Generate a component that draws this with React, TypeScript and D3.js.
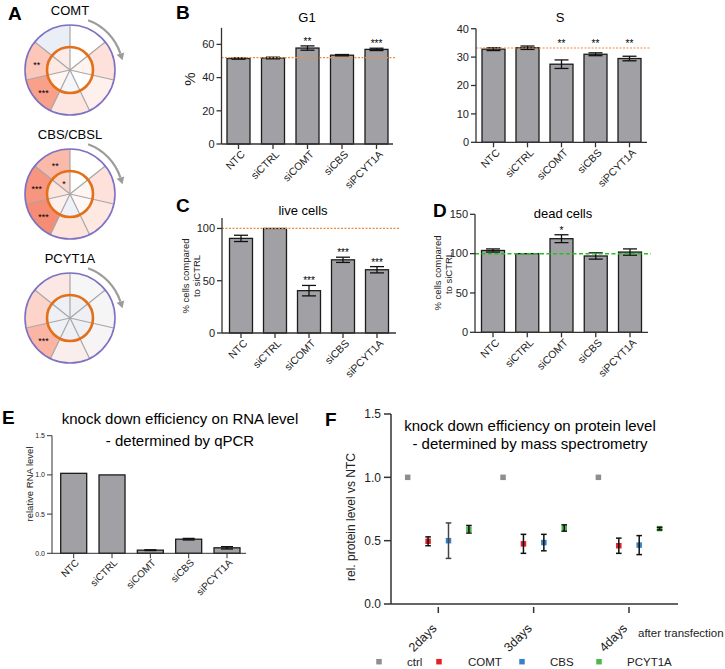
import React from 'react';
import * as d3 from 'd3';

const FONT = '"Liberation Sans", Arial, Helvetica, sans-serif';

// ---------- data ----------
const categories = ['NTC', 'siCTRL', 'siCOMT', 'siCBS', 'siPCYT1A'];

const g1Values = [51.5, 51.8, 57.8, 53.5, 57.0];
const g1Errors = [0.4, 0.5, 1.3, 0.4, 0.7];
const g1Stars = ['', '', '**', '', '***'];
const g1Ref = 52.0;
const g1Ticks = [0, 20, 40, 60];

const sValues = [32.8, 33.3, 27.5, 31.0, 29.5];
const sErrors = [0.5, 0.6, 1.5, 0.5, 0.8];
const sStars = ['', '', '**', '**', '**'];
const sRef = 33.2;
const sTicks = [0, 10, 20, 30, 40];

const liveValues = [90.5, 100, 40.5, 70, 60.5];
const liveErrors = [3, 0, 5, 2.5, 3];
const liveStars = ['', '', '***', '***', '***'];
const liveRef = 100;
const liveTicks = [0, 50, 100];

const deadValues = [104, 100, 119, 97, 102];
const deadErrors = [2, 0, 5, 4, 4];
const deadStars = ['', '', '*', '', ''];
const deadRef = 100;
const deadTicks = [0, 50, 100, 150];

const rnaValues = [1.02, 1.0, 0.04, 0.18, 0.07];
const rnaErrors = [0, 0, 0.005, 0.01, 0.015];
const rnaTicks = [0, 0.5, 1.0, 1.5];

const timepoints = ['2days', '3days', '4days'];
const proteinSeries = ['ctrl', 'COMT', 'CBS', 'PCYT1A'];
const proteinColors = ['#8e8e8e', '#e3202a', '#3b80c4', '#4cb84c'];
const ctrlValues = [1.0, 1.0, 1.0];
const ctrlErrors = [0, 0, 0];
const comtValues = [0.495, 0.475, 0.46];
const comtErrors = [0.035, 0.075, 0.06];
const cbsValues = [0.5, 0.485, 0.465];
const cbsErrors = [0.14, 0.065, 0.075];
const pcytValues = [0.59, 0.6, 0.595];
const pcytErrors = [0.03, 0.025, 0.01];
const proteinTicks = [0, 0.5, 1.0, 1.5];

// wheels: 7 sectors clockwise from 12 o'clock
const wheelTitles = ['COMT', 'CBS/CBSL', 'PCYT1A'];
const comtOuter = ['#ffffff', '#fde1da', '#fef0ec', '#fde6e0', '#f9a08b', '#fcc6b9', '#e9eef7'];
const comtInner = ['#ffffff', '#fef3f0', '#ffffff', '#f4f6fb', '#fff6f3', '#fde8e2', '#fcebe6'];
const comtOuterStars = ['', '', '', '', '***', '**', ''];
const comtInnerStars = ['', '', '', '', '', '', ''];
const cbsOuter = ['#ffffff', '#fde1da', '#fde8e2', '#fde4dd', '#f58c75', '#f8957f', '#fbb9a9'];
const cbsInner = ['#ffffff', '#fff5f2', '#fff8f6', '#eef1f8', '#fef0ec', '#fde6e0', '#fcd5cb'];
const cbsOuterStars = ['', '', '', '', '***', '***', '**'];
const cbsInnerStars = ['', '', '', '', '', '', '*'];
const pcytOuter = ['#f6f6f6', '#f6f5f5', '#f6f4f4', '#f9eeeb', '#fbb5a4', '#fcd4ca', '#fbe8e4'];
const pcytInner = ['#eef0f5', '#eef0f5', '#eef0f5', '#eef0f5', '#eef0f5', '#eef0f5', '#eef0f5'];
const pcytOuterStars = ['', '', '', '', '***', '', ''];
const pcytInnerStars = ['', '', '', '', '', '', ''];

// ---------- components ----------
const BAR_FILL = '#a1a1a5';
const BAR_STROKE = '#1c1c1c';
const AXIS = '#333333';

function Wheel({ cx, cy, title, outer, inner, outerStars, innerStars }: any) {
  const R = 45, r = 23, n = 7;
  const step = (2 * Math.PI) / n;
  const arc = d3.arc();
  const idx = d3.range(n);
  const a0 = (20 * Math.PI) / 180, a1 = (72 * Math.PI) / 180, RA = 53;
  const p = d3.path();
  p.arc(cx, cy, RA, a0 - Math.PI / 2, a1 - Math.PI / 2);
  const ex = cx + RA * Math.sin(a1), ey = cy - RA * Math.cos(a1);
  const tx = Math.cos(a1), ty = Math.sin(a1);
  const nx = Math.sin(a1), ny = -Math.cos(a1);
  const head = `M${ex + tx * 7},${ey + ty * 7}L${ex + nx * 4},${ey + ny * 4}L${ex - nx * 4},${ey - ny * 4}Z`;
  const fs = 9;
  return (
    <g>
      <text x={cx} y={cy - 55} textAnchor="middle" fontSize={13} fontFamily={FONT}>{title}</text>
      <g transform={`translate(${cx},${cy})`}>
        {idx.map((i) => (
          <path key={'o' + i} d={arc({ innerRadius: r, outerRadius: R, startAngle: i * step, endAngle: (i + 1) * step }) as string} fill={outer[i]} />
        ))}
        {idx.map((i) => (
          <path key={'i' + i} d={arc({ innerRadius: 0, outerRadius: r, startAngle: i * step, endAngle: (i + 1) * step }) as string} fill={inner[i]} />
        ))}
        {idx.map((i) => (
          <line key={'s' + i} x1={0} y1={0} x2={R * Math.sin(i * step)} y2={-R * Math.cos(i * step)} stroke="#a6a6a6" strokeWidth={1.2} />
        ))}
        <circle r={r} fill="none" stroke="#e2701a" strokeWidth={2.6} />
        <circle r={R} fill="none" stroke="#7e72c2" strokeWidth={1.6} />
        {idx.map((i) => {
          const m = (i + 0.5) * step, rr = (r + R) / 2;
          return outerStars[i] ? (
            <text key={'os' + i} x={rr * Math.sin(m)} y={-rr * Math.cos(m) + fs * 0.575} textAnchor="middle" fontSize={fs} fontFamily={FONT}>{outerStars[i]}</text>
          ) : null;
        })}
        {idx.map((i) => {
          const m = (i + 0.5) * step, rr = 14;
          return innerStars[i] ? (
            <text key={'is' + i} x={rr * Math.sin(m)} y={-rr * Math.cos(m) + fs * 0.575} textAnchor="middle" fontSize={fs} fontFamily={FONT}>{innerStars[i]}</text>
          ) : null;
        })}
      </g>
      <path d={p.toString()} fill="none" stroke="#9c9c9c" strokeWidth={2.2} />
      <path d={head} fill="#9c9c9c" />
    </g>
  );
}

function BarPanel(props: any) {
  const { axX, axEnd, y0, yTop, max, ticks, c0, c1, barW, values, errors, stars, refValue, refColor, refDash, refWidth, starsAboveRef, title, titleX, titleY, titleGap = 19, ylabelLines, ylabelX, ylabelY, ylabelSize, capW = 7, tickSize = 11, labelSize = 10.5, labelDx = 7, labelDy = 11, fmt = (d: number) => String(d), axisW = 1.3 } = props;
  const y = d3.scaleLinear().domain([0, max]).range([y0, yTop]);
  const x = d3.scalePoint<string>().domain(categories).range([c0, c1]);
  const refY = refValue != null ? y(refValue) : null;
  return (
    <g fontFamily={FONT}>
      {categories.map((c, i) => (
        <rect key={c} x={(x(c) as number) - barW / 2} y={y(values[i])} width={barW} height={y0 - y(values[i])} fill={BAR_FILL} stroke={BAR_STROKE} strokeWidth={1.3} />
      ))}
      {categories.map((c, i) => {
        if (!errors[i]) return null;
        const cx = x(c) as number;
        const t = y(values[i] + errors[i]), b = y(values[i] - errors[i]);
        return (
          <g key={'e' + c} stroke="#111" strokeWidth={1.3}>
            <line x1={cx} x2={cx} y1={t} y2={b} />
            <line x1={cx - capW} x2={cx + capW} y1={t} y2={t} />
            <line x1={cx - capW} x2={cx + capW} y1={b} y2={b} />
          </g>
        );
      })}
      {refY != null && (
        <line x1={axX} x2={axEnd + 3} y1={refY} y2={refY} stroke={refColor} strokeWidth={refWidth || 1.2} strokeDasharray={refDash || '2,1.5'} />
      )}
      {stars && categories.map((c, i) => {
        if (!stars[i]) return null;
        let top = y(values[i] + (errors[i] || 0));
        if (starsAboveRef && refY != null) top = Math.min(top, refY);
        return <text key={'st' + c} x={x(c) as number} y={top - 1} textAnchor="middle" fontSize={10}>{stars[i]}</text>;
      })}
      <line x1={axX} x2={axX} y1={yTop} y2={y0} stroke={AXIS} strokeWidth={axisW} />
      <line x1={axX} x2={axEnd} y1={y0} y2={y0} stroke={AXIS} strokeWidth={axisW} />
      {ticks.map((t: number) => (
        <g key={'yt' + t}>
          <line x1={axX - 5} x2={axX} y1={y(t)} y2={y(t)} stroke={AXIS} strokeWidth={axisW} />
          <text x={axX - 7} y={y(t)} dy="0.35em" textAnchor="end" fontSize={tickSize} fill="#222">{fmt(t)}</text>
        </g>
      ))}
      {categories.map((c) => (
        <g key={'xt' + c}>
          <line x1={x(c) as number} x2={x(c) as number} y1={y0} y2={y0 + 5} stroke={AXIS} strokeWidth={axisW} />
          <text transform={`translate(${(x(c) as number) + labelDx},${y0 + labelDy}) rotate(-45)`} textAnchor="end" fontSize={labelSize} fill="#222">{c}</text>
        </g>
      ))}
      {title && title.map((t: string, i: number) => (
        <text key={'ti' + i} x={titleX} y={titleY + i * titleGap} textAnchor="middle" fontSize={props.titleSize || 13}>{t}</text>
      ))}
      <g transform={`translate(${ylabelX},${ylabelY}) rotate(-90)`}>
        {ylabelLines.map((l: string, i: number) => (
          <text key={'yl' + i} x={0} y={i * (ylabelSize * 1.2)} textAnchor="middle" fontSize={ylabelSize} fill="#222">{l}</text>
        ))}
      </g>
    </g>
  );
}

function ProteinPanel() {
  const axX = 391, axEnd = 678, y0 = 604, yTop = 414;
  const y = d3.scaleLinear().domain([0, 1.5]).range([y0, yTop]);
  const x = d3.scalePoint<string>().domain(timepoints).range([438.3, 629]);
  const off = d3.scalePoint<string>().domain(proteinSeries).range([-30.6, 30.6]);
  const seriesVals = [ctrlValues, comtValues, cbsValues, pcytValues];
  const seriesErr = [ctrlErrors, comtErrors, cbsErrors, pcytErrors];
  const sq = 5.5;
  return (
    <g fontFamily={FONT}>
      <text x={530} y={431} textAnchor="middle" fontSize={15}>knock down efficiency on protein level</text>
      <text x={530} y={449} textAnchor="middle" fontSize={15}>- determined by mass spectrometry</text>
      <line x1={axX} x2={axX} y1={yTop} y2={y0} stroke={AXIS} strokeWidth={1.5} />
      <line x1={axX} x2={axEnd} y1={y0} y2={y0} stroke={AXIS} strokeWidth={1.5} />
      {proteinTicks.map((t) => (
        <g key={t}>
          <line x1={axX - 7} x2={axX} y1={y(t)} y2={y(t)} stroke={AXIS} strokeWidth={1.5} />
          <text x={axX - 10} y={y(t)} dy="0.35em" textAnchor="end" fontSize={12} fill="#222">{d3.format('.1f')(t)}</text>
        </g>
      ))}
      {timepoints.map((tp) => (
        <g key={tp}>
          <line x1={x(tp) as number} x2={x(tp) as number} y1={y0 + 3} y2={y0 + 9} stroke={AXIS} strokeWidth={1.5} />
          <text transform={`translate(${(x(tp) as number) - 1},${y0 + 25}) rotate(-45)`} textAnchor="end" fontSize={12.5} fill="#222">{tp}</text>
        </g>
      ))}
      <text x={638} y={637} fontSize={11.5} fill="#222">after transfection</text>
      {proteinSeries.map((s, si) =>
        timepoints.map((tp, ti) => {
          const cx = (x(tp) as number) + (off(s) as number);
          const cy = y(seriesVals[si][ti]);
          return <rect key={s + tp} x={cx - sq / 2} y={cy - sq / 2} width={sq} height={sq} fill={proteinColors[si]} />;
        })
      )}
      {proteinSeries.map((s, si) =>
        timepoints.map((tp, ti) => {
          const e = seriesErr[si][ti];
          if (!e) return null;
          const cx = (x(tp) as number) + (off(s) as number);
          const t = y(seriesVals[si][ti] + e), b = y(seriesVals[si][ti] - e);
          const col = si === 2 && ti === 0 ? '#444' : '#111';
          return (
            <g key={'e' + s + tp} stroke={col} strokeWidth={1.5}>
              <line x1={cx} x2={cx} y1={t} y2={b} />
              <line x1={cx - 2.8} x2={cx + 2.8} y1={t} y2={t} />
              <line x1={cx - 2.8} x2={cx + 2.8} y1={b} y2={b} />
            </g>
          );
        })
      )}
      <g transform={`translate(355,517) rotate(-90)`}>
        <text textAnchor="middle" fontSize={12} fill="#222">rel. protein level vs NTC</text>
      </g>
      {proteinSeries.map((s, si) => {
        const lx = [379, 439, 522, 599][si];
        const tx = [407, 468, 550, 627][si];
        return (
          <g key={'lg' + s}>
            <rect x={lx - 2.75} y={661.7 - 2.75} width={5.5} height={5.5} fill={proteinColors[si]} />
            <text x={tx} y={666} fontSize={11.5} fill="#222">{s}</text>
          </g>
        );
      })}
    </g>
  );
}

export default function App() {
  return (
    <svg width={725} height={669} style={{ position: 'absolute', left: 0, top: 0, background: '#fff' }} fontFamily={FONT}>
      <rect width={725} height={669} fill="#fff" />
      {/* panel letters */}
      <g fontWeight="bold" fontSize={19} fontFamily={FONT}>
        <text x={8} y={20}>A</text>
        <text x={176} y={19}>B</text>
        <text x={176} y={212}>C</text>
        <text x={433} y={217}>D</text>
        <text x={2} y={424}>E</text>
        <text x={325} y={426}>F</text>
      </g>
      <Wheel cx={70} cy={70} title={wheelTitles[0]} outer={comtOuter} inner={comtInner} outerStars={comtOuterStars} innerStars={comtInnerStars} />
      <Wheel cx={70} cy={194} title={wheelTitles[1]} outer={cbsOuter} inner={cbsInner} outerStars={cbsOuterStars} innerStars={cbsInnerStars} />
      <Wheel cx={70} cy={318} title={wheelTitles[2]} outer={pcytOuter} inner={pcytInner} outerStars={pcytOuterStars} innerStars={pcytInnerStars} />

      <BarPanel axX={221.5} axEnd={393} y0={144} yTop={27.8} max={70} ticks={g1Ticks} c0={238.5} c1={376.5} barW={23}
        values={g1Values} errors={g1Errors} stars={g1Stars} refValue={g1Ref} refColor="#f08a3c" starsAboveRef
        title={['G1']} titleX={307} titleY={22} ylabelLines={['%']} ylabelX={195} ylabelY={79} ylabelSize={15} />
      <BarPanel axX={476} axEnd={647} y0={142.3} yTop={28.7} max={40} ticks={sTicks} c0={493.5} c1={629.5} barW={23}
        values={sValues} errors={sErrors} stars={sStars} refValue={sRef} refColor="#f08a3c" starsAboveRef
        title={['S']} titleX={560} titleY={22} ylabelLines={[]} ylabelX={0} ylabelY={0} ylabelSize={10} />
      <BarPanel axX={222} axEnd={396} y0={333} yTop={218} max={110} ticks={liveTicks} c0={241} c1={377} barW={23}
        values={liveValues} errors={liveErrors} stars={liveStars} refValue={liveRef} refColor="#f08a3c"
        title={['live cells']} titleX={303} titleY={215} ylabelLines={['% cells compared', 'to siCTRL']} ylabelX={189} ylabelY={276} ylabelSize={9.5} />
      <BarPanel axX={475} axEnd={648} y0={332.3} yTop={214.3} max={150} ticks={deadTicks} c0={493} c1={630} barW={23}
        values={deadValues} errors={deadErrors} stars={deadStars} refValue={deadRef} refColor="#22c322" refDash="4,2.5" refWidth={1.5}
        title={['dead cells']} titleX={563} titleY={218} ylabelLines={['% cells compared', 'to siCTRL']} ylabelX={441} ylabelY={273} ylabelSize={9.5} />
      <BarPanel axX={52} axEnd={246} y0={553.3} yTop={435.7} max={1.5} ticks={rnaTicks} c0={73.7} c1={227} barW={26}
        values={rnaValues} errors={rnaErrors} stars={null} refValue={null} capW={6}
        title={['knock down efficiency on RNA level', '- determined by qPCR']} titleX={180} titleY={424} titleGap={22} titleSize={15}
        ylabelLines={['relative RNA level']} ylabelX={33} ylabelY={484} ylabelSize={9.5}
        tickSize={7} labelSize={10} labelDx={6} labelDy={10} axisW={1} fmt={(d: number) => d3.format('.1f')(d)} />
      <ProteinPanel />
    </svg>
  );
}
